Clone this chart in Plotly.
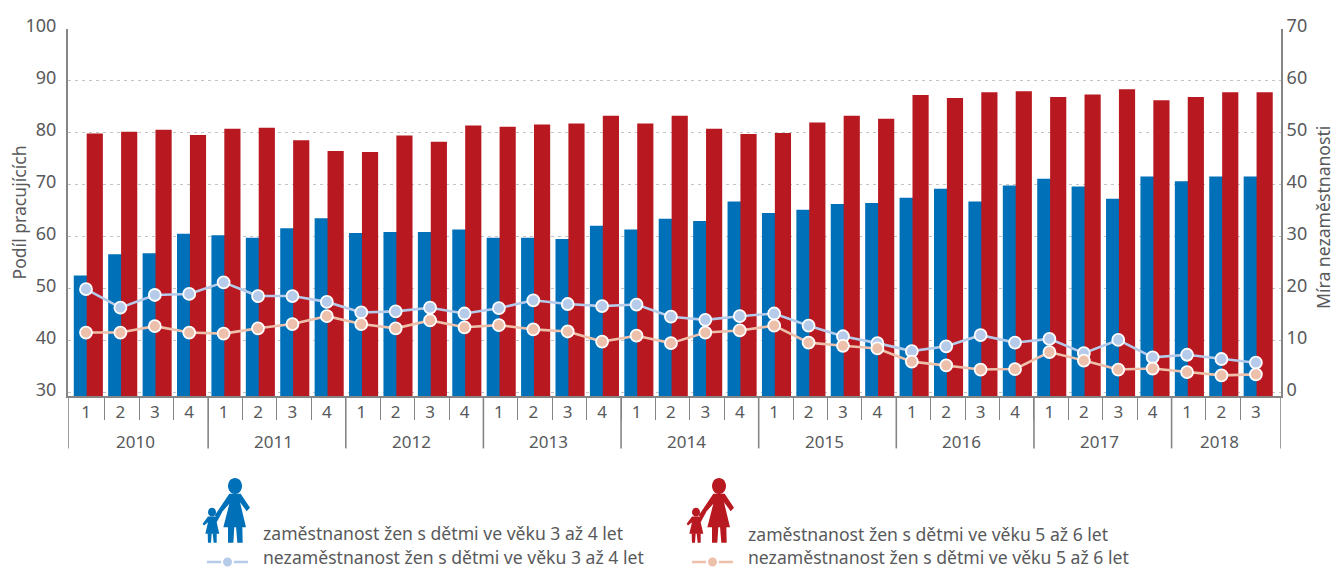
import plotly.graph_objects as go

W, H = 1341, 568
L, R, T, B = 68, 60, 29.3, 172.3

years = ["2010", "2011", "2012", "2013", "2014", "2015", "2016", "2017", "2018"]
quarters_per_year = [4, 4, 4, 4, 4, 4, 4, 4, 3]
quarter_labels = [str(q) for n in quarters_per_year for q in range(1, n + 1)]
left_ticks = [30, 40, 50, 60, 70, 80, 90, 100]
right_ticks = [0, 10, 20, 30, 40, 50, 60, 70]

employment_3_4 = [52.56, 56.63, 56.83, 60.6, 60.3, 59.79, 61.62, 63.56, 60.7, 60.91, 60.91, 61.42,
                  59.79, 59.79, 59.58, 62.13, 61.42, 63.45, 63.05, 66.81, 64.57, 65.18, 66.3, 66.51,
                  67.53, 69.26, 66.81, 69.87, 71.19, 69.67, 67.32, 71.6, 70.68, 71.6, 71.6]
employment_5_6 = [79.9, 80.2, 80.6, 79.6, 80.8, 81.0, 78.6, 76.5, 76.3, 79.5, 78.3, 81.4,
                  81.2, 81.6, 81.8, 83.3, 81.8, 83.3, 80.8, 79.8, 80.0, 82.0, 83.3, 82.7,
                  87.3, 86.7, 87.8, 88.0, 86.9, 87.4, 88.4, 86.3, 86.9, 87.8, 87.8]
unemployment_3_4 = [19.91, 16.34, 18.79, 18.99, 21.23, 18.58, 18.58, 17.46, 15.43, 15.63, 16.34, 15.22,
                    16.24, 17.77, 17.05, 16.65, 16.95, 14.61, 14.0, 14.71, 15.22, 12.88, 10.84, 9.52,
                    7.99, 8.91, 11.05, 9.62, 10.33, 7.58, 10.13, 6.77, 7.28, 6.46, 5.75]
unemployment_5_6 = [11.56, 11.56, 12.78, 11.56, 11.35, 12.37, 13.19, 14.71, 13.19, 12.37, 13.9, 12.57,
                    12.98, 12.17, 11.76, 9.82, 10.95, 9.52, 11.56, 11.96, 12.88, 9.62, 9.01, 8.5,
                    5.96, 5.24, 4.43, 4.53, 7.79, 6.16, 4.43, 4.63, 3.92, 3.31, 3.51]

legend_labels = ["zaměstnanost žen s dětmi ve věku 3 až 4 let",
                 "nezaměstnanost žen s dětmi ve věku 3 až 4 let",
                 "zaměstnanost žen s dětmi ve věku 5 až 6 let",
                 "nezaměstnanost žen s dětmi ve věku 5 až 6 let"]
left_title = "Podíl pracujících"
right_title = "Míra nezaměstnanosti"

BLUE, RED = "#0070b8", "#b8181f"
LBLUE, LRED = "#b6cbe9", "#edc0ab"
GREY, TXT = "#858585", "#58595b"
FONT = "Noto Sans"
Y_FLOOR = 29.34
Y2_FLOOR = -0.66

x = list(range(len(quarter_labels)))
fig = go.Figure()
fig.add_bar(x=x, y=[v - Y_FLOOR for v in employment_3_4], base=Y_FLOOR, width=0.47, offset=-0.355,
            marker=dict(color=BLUE, line_width=0), name=legend_labels[0])
fig.add_bar(x=x, y=[v - Y_FLOOR for v in employment_5_6], base=Y_FLOOR, width=0.47, offset=0.02,
            marker=dict(color=RED, line_width=0), name=legend_labels[2])
for vals, col, nm in [(unemployment_3_4, LBLUE, legend_labels[1]),
                      (unemployment_5_6, LRED, legend_labels[3])]:
    fig.add_scatter(x=x, y=vals, yaxis="y2", mode="lines+markers", name=nm,
                    line=dict(color=col, width=2.6),
                    marker=dict(color=col, size=12, line=dict(color="white", width=1.8)))


def px(v):
    return (v - L) / (W - L - R)


def py(v):
    return 1 - (v - T) / (H - T - B)


def blob(points, zx, zy, dx):
    """Polygon path from zoomed-crop coordinates of the icon."""
    out = []
    for i, (a, b) in enumerate(points):
        out.append(("M" if i == 0 else "L") + f"{px(zx + a / 3 + dx):.5f},{py(zy + b / 3):.5f}")
    return " ".join(out) + " Z"


def ellipse(cx, cy, rx, ry, zx, zy, dx):
    k = 0.5523
    X = lambda a: f"{px(zx + a / 3 + dx):.5f}"
    Y = lambda b: f"{py(zy + b / 3):.5f}"
    return (f"M{X(cx - rx)},{Y(cy)} C{X(cx - rx)},{Y(cy - k * ry)} {X(cx - k * rx)},{Y(cy - ry)} {X(cx)},{Y(cy - ry)} "
            f"C{X(cx + k * rx)},{Y(cy - ry)} {X(cx + rx)},{Y(cy - k * ry)} {X(cx + rx)},{Y(cy)} "
            f"C{X(cx + rx)},{Y(cy + k * ry)} {X(cx + k * rx)},{Y(cy + ry)} {X(cx)},{Y(cy + ry)} "
            f"C{X(cx - k * rx)},{Y(cy + ry)} {X(cx - rx)},{Y(cy + k * ry)} {X(cx - rx)},{Y(cy)} Z")


icon_polys = [
    [(118, 70), (152, 70), (180, 112), (170, 122), (150, 95), (168, 170), (100, 170), (118, 100), (82, 140), (74, 135)],
    [(114, 168), (133, 168), (130, 217), (114, 217)],
    [(138, 168), (157, 168), (158, 217), (142, 217)],
    [(54, 138), (78, 138), (92, 122), (96, 126), (80, 155), (88, 190), (46, 190), (54, 155), (42, 165), (38, 160)],
    [(53, 188), (65, 188), (63, 217), (54, 217)],
    [(68, 188), (80, 188), (80, 217), (71, 217)],
]
shapes = []
for dx, col in [(0, BLUE), (484, RED)]:
    for poly in icon_polys:
        shapes.append(dict(type="path", xref="paper", yref="paper", path=blob(poly, 190, 470, dx),
                           fillcolor=col, line_width=0))
    for e in [(135, 47, 21, 24), (66, 125, 12, 13)]:
        shapes.append(dict(type="path", xref="paper", yref="paper", path=ellipse(*e, 190, 470, dx),
                           fillcolor=col, line_width=0))

AX_LEFT, AX_RIGHT = -0.523, 34.73
pos = 0
annotations = []
dividers = [AX_LEFT]
for yr, n in zip(years, quarters_per_year):
    annotations.append(dict(x=pos + (n - 1) / 2 - 0.05, xref="x", y=py(441.5), yref="paper", text=yr, showarrow=False,
                            font=dict(family=FONT, size=17, color=TXT), xanchor="center", yanchor="middle"))
    pos += n
    dividers.append(pos - 0.45 if pos < len(x) else AX_RIGHT)
for d in dividers:
    shapes.append(dict(type="line", xref="x", yref="paper", x0=d, x1=d,
                       y0=0, y1=py(448), line=dict(color=GREY, width=1.6)))
minor_ticks = [i + 0.55 for i in range(len(x) - 1)]

# axis titles
annotations.append(dict(x=px(18), xref="paper", y=py(212.5), yref="paper", text=left_title, textangle=-90, showarrow=False,
                        font=dict(family=FONT, size=17.6, color=TXT), xanchor="center", yanchor="middle"))
annotations.append(dict(x=px(1323), xref="paper", y=py(218), yref="paper", text=right_title, textangle=-90, showarrow=False,
                        font=dict(family=FONT, size=17.6, color=TXT), xanchor="center", yanchor="middle"))

# legend rows
for i, (tx, ty, lx, sy, col) in enumerate([(263, 532, None, None, None), (263, 556.5, 207, 561.5, LBLUE),
                                           (748, 533.5, None, None, None), (748, 556.5, 692, 561.5, LRED)]):
    annotations.append(dict(x=px(tx - 1), xref="paper", y=py(ty), yref="paper", text=legend_labels[i], showarrow=False,
                            font=dict(family=FONT, size=17.6, color=TXT), xanchor="left", yanchor="middle",
                            borderpad=0))
    if lx is not None:
        shapes.append(dict(type="line", xref="paper", yref="paper", x0=px(lx), x1=px(lx + 41),
                           y0=py(sy), y1=py(sy), line=dict(color=col, width=2.4)))
        shapes.append(dict(type="path", xref="paper", yref="paper",
                           path=ellipse(0, 0, 6.5 * 3, 6.5 * 3, lx + 20.5, sy, 0),
                           fillcolor="white", line_width=0))
        shapes.append(dict(type="path", xref="paper", yref="paper",
                           path=ellipse(0, 0, 4.5 * 3, 4.5 * 3, lx + 20.5, sy, 0),
                           fillcolor=col, line_width=0))

fig.update_layout(
    width=W, height=H, barmode="overlay", showlegend=False,
    margin=dict(l=L, r=R, t=T, b=B, pad=0, autoexpand=False),
    paper_bgcolor="white", plot_bgcolor="white",
    font=dict(family=FONT, color=TXT, size=17),
    shapes=shapes, annotations=annotations,
    xaxis=dict(range=[AX_LEFT, AX_RIGHT], tickmode="array", tickvals=x, ticktext=quarter_labels,
               showgrid=False, zeroline=False, showline=True, linecolor=GREY, linewidth=2,
               ticks="", tickfont=dict(family=FONT, size=17, color=TXT), tickangle=0,
               minor=dict(ticks="outside", tickmode="array", tickvals=minor_ticks, ticklen=22,
                          tickcolor=GREY, tickwidth=1.4, showgrid=False)),
    yaxis=dict(range=[Y_FLOOR, 100], tickmode="array", tickvals=left_ticks, showgrid=True, gridcolor="#c4c4c4",
               griddash="3px,4px", gridwidth=1, showline=True, linecolor=GREY, linewidth=2, zeroline=False, ticks="",
               ticklabelstandoff=6, ticklabelshift=-3, tickfont=dict(family=FONT, size=18, color=TXT)),
    yaxis2=dict(range=[Y2_FLOOR, 70], tickmode="array", tickvals=right_ticks, overlaying="y", side="right",
                showgrid=False, zeroline=False, showline=True, linecolor=GREY, linewidth=2, ticks="",
                ticklabelshift=-3, tickfont=dict(family=FONT, size=18, color=TXT)),
)

fig.write_html("out.html", config=dict(displayModeBar=False), post_script="document.body.style.margin='0';")
